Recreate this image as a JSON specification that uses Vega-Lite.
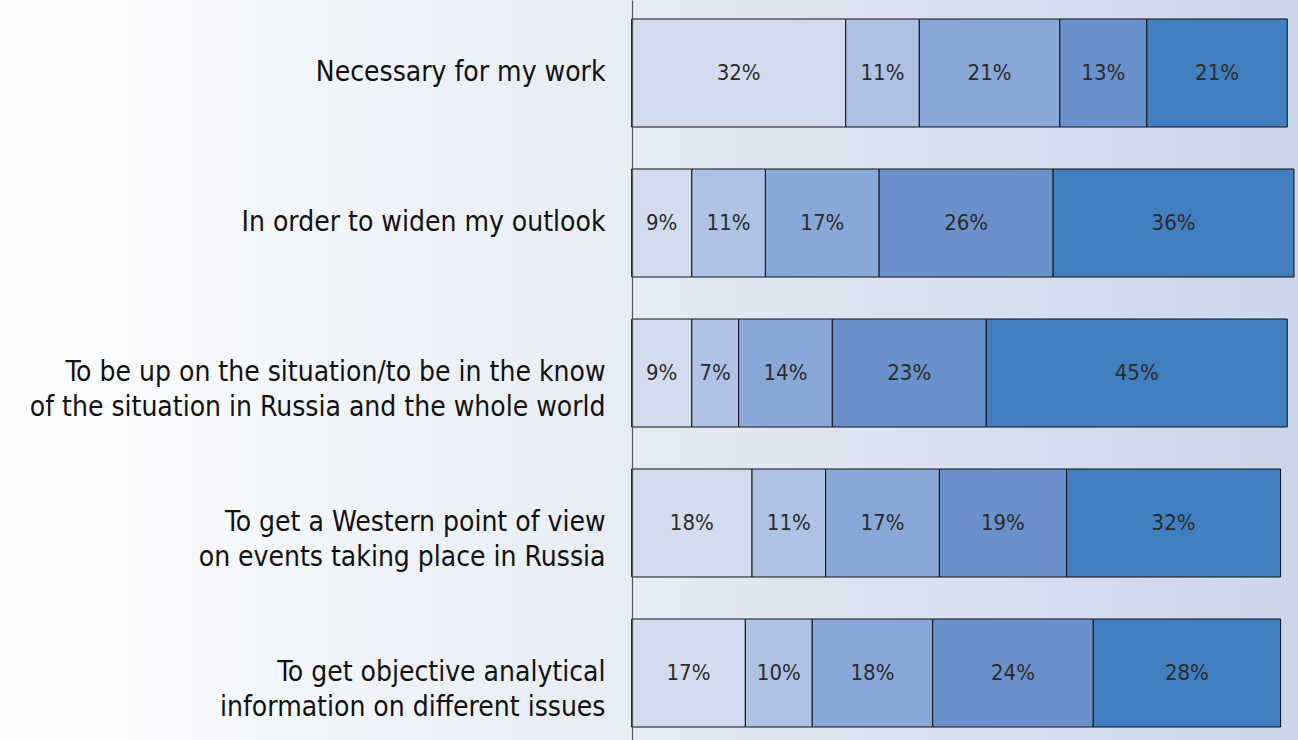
{
  "$schema": "https://vega.github.io/schema/vega-lite/v6.json",
  "width": 1298,
  "height": 740,
  "padding": 0,
  "autosize": "none",
  "background": "#ffffff",
  "config": {"view": {"stroke": null}},
  "data": {
    "values": [
      {"q": "Necessary for my work", "s": 1, "p": 32},
      {"q": "Necessary for my work", "s": 2, "p": 11},
      {"q": "Necessary for my work", "s": 3, "p": 21},
      {"q": "Necessary for my work", "s": 4, "p": 13},
      {"q": "Necessary for my work", "s": 5, "p": 21},
      {"q": "In order to widen my outlook", "s": 1, "p": 9},
      {"q": "In order to widen my outlook", "s": 2, "p": 11},
      {"q": "In order to widen my outlook", "s": 3, "p": 17},
      {"q": "In order to widen my outlook", "s": 4, "p": 26},
      {"q": "In order to widen my outlook", "s": 5, "p": 36},
      {"q": "To be up on the situation/to be in the know|of the situation in Russia and the whole world", "s": 1, "p": 9},
      {"q": "To be up on the situation/to be in the know|of the situation in Russia and the whole world", "s": 2, "p": 7},
      {"q": "To be up on the situation/to be in the know|of the situation in Russia and the whole world", "s": 3, "p": 14},
      {"q": "To be up on the situation/to be in the know|of the situation in Russia and the whole world", "s": 4, "p": 23},
      {"q": "To be up on the situation/to be in the know|of the situation in Russia and the whole world", "s": 5, "p": 45},
      {"q": "To get a Western point of view|on events taking place in Russia", "s": 1, "p": 18},
      {"q": "To get a Western point of view|on events taking place in Russia", "s": 2, "p": 11},
      {"q": "To get a Western point of view|on events taking place in Russia", "s": 3, "p": 17},
      {"q": "To get a Western point of view|on events taking place in Russia", "s": 4, "p": 19},
      {"q": "To get a Western point of view|on events taking place in Russia", "s": 5, "p": 32},
      {"q": "To get objective analytical|information on different  issues", "s": 1, "p": 17},
      {"q": "To get objective analytical|information on different  issues", "s": 2, "p": 10},
      {"q": "To get objective analytical|information on different  issues", "s": 3, "p": 18},
      {"q": "To get objective analytical|information on different  issues", "s": 4, "p": 24},
      {"q": "To get objective analytical|information on different  issues", "s": 5, "p": 28}
    ]
  },
  "transform": [
    {"stack": "p", "groupby": ["q"], "sort": [{"field": "s", "order": "ascending"}], "as": ["x0", "x1"]},
    {"calculate": "(datum.x0 + datum.x1) / 2", "as": "mid"},
    {"calculate": "datum.p + '%'", "as": "lbl"}
  ],
  "encoding": {
    "y": {
      "field": "q",
      "type": "nominal",
      "sort": null,
      "scale": {"paddingInner": 0.28, "paddingOuter": 0.1067, "align": 0.594},
      "axis": {
        "title": null,
        "orient": "left",
        "offset": -632,
        "zindex": 1,
        "ticks": false,
        "tickSize": 0,
        "domain": true,
        "domainColor": "#555555",
        "domainWidth": 1.2,
        "labelPadding": 27,
        "labelExpr": "split(datum.label, '|')",
        "labelFont": "DejaVu Sans Condensed, sans-serif",
        "labelFontSize": 28,
        "labelColor": "#111111",
        "labelLineHeight": 35,
        "labelLimit": 700
      }
    }
  },
  "layer": [
    {
      "mark": {
        "type": "rect",
        "color": {
          "gradient": "linear",
          "x1": 0, "y1": 0, "x2": 1, "y2": 0,
          "stops": [
            {"offset": 0, "color": "#ffffff"},
            {"offset": 0.45, "color": "#e8edf5"},
            {"offset": 1, "color": "#cbd6ea"}
          ]
        }
      },
      "encoding": {
        "y": null,
        "x": {"datum": -94.4, "type": "quantitative", "scale": {"domain": [-94.4, 99.6]}, "axis": null},
        "x2": {"datum": 99.6}
      }
    },
    {
      "mark": {"type": "bar", "stroke": "#111111", "strokeWidth": 1},
      "encoding": {
        "x": {"field": "x0", "type": "quantitative", "scale": {"domain": [-94.4, 99.6]}, "axis": null},
        "x2": {"field": "x1"},
        "color": {
          "field": "s",
          "type": "ordinal",
          "scale": {"domain": [1, 2, 3, 4, 5], "range": ["#d3dcee", "#afc1e4", "#8aa8d7", "#6a91cb", "#427fc1"]},
          "legend": null
        }
      }
    },
    {
      "mark": {"type": "text", "font": "DejaVu Sans Condensed, sans-serif", "fontSize": 22, "color": "#2b2b2b", "baseline": "middle", "align": "center"},
      "encoding": {
        "x": {"field": "mid", "type": "quantitative", "scale": {"domain": [-94.4, 99.6]}, "axis": null},
        "text": {"field": "lbl"}
      }
    }
  ]
}
